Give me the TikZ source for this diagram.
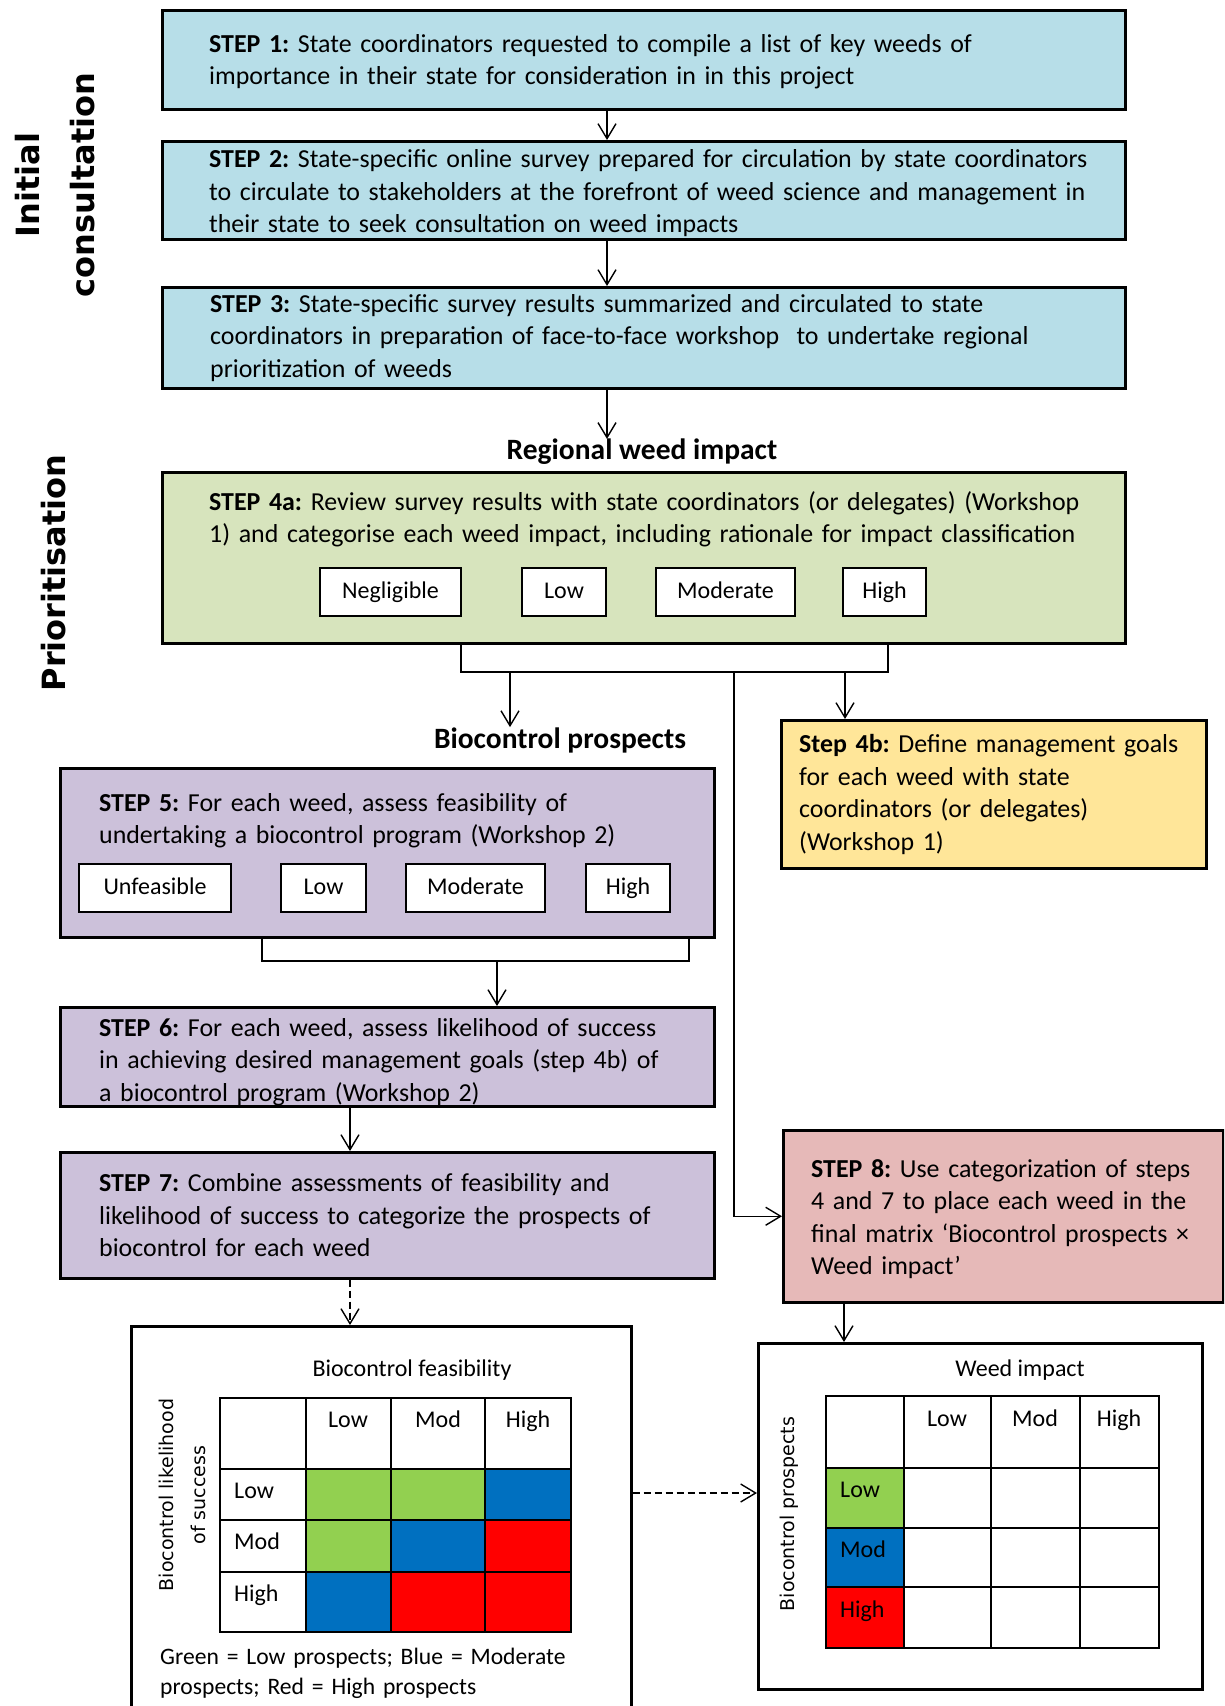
\documentclass[tikz,border=0pt]{standalone}
\usepackage{fontspec}
\setmainfont{Carlito}
\newfontfamily\verdfont{DejaVu Sans}
\usetikzlibrary{arrows.meta,positioning,calc}
\frenchspacing

\definecolor{boxblue}{HTML}{B7DEE8}
\definecolor{boxgreen}{HTML}{D7E4BD}
\definecolor{boxpurple}{HTML}{CCC1DA}
\definecolor{boxyellow}{HTML}{FFE699}
\definecolor{boxpink}{HTML}{E6B9B8}
\definecolor{cellgreen}{HTML}{92D050}
\definecolor{cellblue}{HTML}{0070C0}
\definecolor{cellred}{HTML}{FF0000}

\newcommand{\stepfont}{\fontsize{25.9}{32.5}\selectfont}
\newcommand{\catfont}{\fontsize{24}{30}\selectfont}
\newcommand{\headfont}{\fontsize{29.5}{34}\selectfont\bfseries}
\newcommand{\sidefont}{\verdfont\fontsize{32}{55}\selectfont\bfseries}
\newcommand{\rotfont}{\verdfont\fontsize{19}{32}\selectfont}

\begin{document}
\begin{tikzpicture}[
    x=1pt, y=-1pt,
    stepbox/.style={rectangle, draw, line width=2.5pt, anchor=north west, inner sep=0pt},
    steptext/.style={inner sep=0pt, align=left, font=\stepfont},
    catbox/.style={rectangle, draw, fill=white, line width=1.6pt, minimum height=48pt, inner sep=0pt,
      text height=17pt, text depth=5pt, font=\catfont},
    heading/.style={inner sep=0pt, font=\headfont},
    sidelabel/.style={rotate=90, align=center, inner sep=0pt, font=\sidefont},
    rotlabel/.style={rotate=90, align=center, inner sep=0pt, font=\rotfont},
    tablabel/.style={inner sep=0pt, text height=17pt, text depth=5pt, font=\catfont},
    frame/.style={rectangle, draw, line width=2.5pt, anchor=north west, inner sep=0pt},
    tabline/.style={line width=1.5pt, line cap=rect},
    bracket/.style={line width=2pt},
    conn/.style={line width=1.4pt, -{Straight Barb[length=15pt,width=18pt]}}
]
\path[use as bounding box] (0,0) rectangle (1224,1706);
\clip (0,0) rectangle (1224,1706);

% side labels
\node[sidelabel] (initial) at (55,185) {Initial\\consultation};
\node[sidelabel] (prior) at (54,573) {Prioritisation};

% initial consultation
\node[stepbox, fill=boxblue, minimum width=963pt, minimum height=99pt] (s1) at (161,9) {};
\node[steptext, text width=900pt, right=48pt of s1.west, yshift=-2pt] (s1text)
  {\textbf{STEP 1:} State coordinators requested to compile a list of key weeds of\\
   importance in their state for consideration in in this project};
\node[stepbox, fill=boxblue, minimum width=963pt, minimum height=98pt] (s2) at (161,140) {};
\node[steptext, text width=900pt, right=48pt of s2.west, yshift=-3pt] (s2text)
  {\textbf{STEP 2:} State-specific online survey prepared for circulation by state coordinators\\
   to circulate to stakeholders at the forefront of weed science and management in\\
   their state to seek consultation on weed impacts};
\node[stepbox, fill=boxblue, minimum width=963pt, minimum height=101pt] (s3) at (161,286) {};
\node[steptext, text width=900pt, right=49pt of s3.west] (s3text)
  {\textbf{STEP 3:} State-specific survey results summarized and circulated to state\\
   coordinators in preparation of face-to-face workshop\ \ to undertake regional\\
   prioritization of weeds};

\coordinate (c13) at (607,0);
\draw[conn] (s1.south -| c13) -- (s2.north -| c13);
\draw[conn] (s2.south -| c13) -- (s3.north -| c13);

% weed impact
\node[heading] (regional) at (642,452) {Regional weed impact};
\draw[conn] (s3.south -| c13) -- (regional.north -| c13);

\node[stepbox, fill=boxgreen, minimum width=963pt, minimum height=171pt] (s4a) at (161,471) {};
\node[steptext, anchor=base west, text width=900pt] (s4atext) at (209,510)
  {\textbf{STEP 4a:} Review survey results with state coordinators (or delegates) (Workshop\\
   1) and categorise each weed impact, including rationale for impact classification};
\node[catbox, minimum width=141pt] (negl) at (390.5,592) {Negligible};
\node[catbox, minimum width=84pt] (low4) at (564,592) {Low};
\node[catbox, minimum width=139pt] (mod4) at (725.5,592) {Moderate};
\node[catbox, minimum width=83pt] (high4) at (884.5,592) {High};

\coordinate (b4l) at (461,672);
\coordinate (b4r) at (888,672);
\draw[bracket] (b4l |- s4a.south) -- (b4l) -- (b4r) -- (b4r |- s4a.south);

\node[heading] (bioprosp) at (560,740) {Biocontrol prospects};
\node[stepbox, fill=boxyellow, minimum width=425pt, minimum height=148pt] (s4b) at (780,719) {};
\node[steptext, text width=400pt, right=19pt of s4b.west] (s4btext)
  {\textbf{Step 4b:} Define management goals\\
   for each weed with state\\
   coordinators (or delegates)\\
   (Workshop 1)};

\coordinate (t4a) at (510,672);
\coordinate (t4b) at (845,672);
\coordinate (t8) at (734,672);
\draw[conn] (t4a) -- (t4a |- bioprosp.north);
\draw[conn] (t4b) -- (t4b |- s4b.north);

% biocontrol prospects
\node[stepbox, fill=boxpurple, minimum width=654pt, minimum height=169pt] (s5) at (59,767) {};
\node[steptext, anchor=base west, text width=600pt] (s5text) at (99,811)
  {\textbf{STEP 5:} For each weed, assess feasibility of\\
   undertaking a biocontrol program (Workshop 2)};
\node[catbox, minimum width=152pt] (unf) at (155,888) {Unfeasible};
\node[catbox, minimum width=85pt] (low5) at (323.5,888) {Low};
\node[catbox, minimum width=139pt] (mod5) at (475.5,888) {Moderate};
\node[catbox, minimum width=84pt] (high5) at (628,888) {High};

\coordinate (b5l) at (262,961);
\coordinate (b5r) at (689,961);
\draw[bracket] (b5l |- s5.south) -- (b5l) -- (b5r) -- (b5r |- s5.south);

\node[stepbox, fill=boxpurple, minimum width=654pt, minimum height=99pt] (s6) at (59,1006) {};
\node[steptext, text width=600pt, right=40pt of s6.west, yshift=-5pt] (s6text)
  {\textbf{STEP 6:} For each weed, assess likelihood of success\\
   in achieving desired management goals (step 4b) of\\
   a biocontrol program (Workshop 2)};
\node[stepbox, fill=boxpurple, minimum width=654pt, minimum height=126pt] (s7) at (59,1151) {};
\node[steptext, text width=600pt, right=40pt of s7.west] (s7text)
  {\textbf{STEP 7:} Combine assessments of feasibility and\\
   likelihood of success to categorize the prospects of\\
   biocontrol for each weed};
\node[stepbox, fill=boxpink, minimum width=440pt, minimum height=172pt] (s8) at (782,1129) {};
\node[steptext, text width=410pt, right=29pt of s8.west, yshift=-3pt] (s8text)
  {\textbf{STEP 8:} Use categorization of steps\\
   4 and 7 to place each weed in the\\
   final matrix ‘Biocontrol prospects ×\\
   Weed impact’};

\coordinate (t6) at (497,961);
\coordinate (c67) at (350,0);
\draw[conn] (t6) -- (t6 |- s6.north);
\draw[conn] (s6.south -| c67) -- (s7.north -| c67);
\draw[conn] (t8) |- (s8.west);

% matrices
\node[frame, minimum width=500pt, minimum height=400pt] (fmA) at (130,1325) {};
\node[frame, minimum width=444pt, minimum height=346pt] (fmB) at (757,1342) {};

\coordinate (c8) at (844,0);
\coordinate (cm) at (0,1493);
\draw[conn, dashed, dash pattern=on 7pt off 4pt] (s7.south -| c67) -- (fmA.north -| c67);
\draw[conn] (s8.south -| c8) -- (fmB.north -| c8);
\draw[conn, dashed, dash pattern=on 7pt off 4pt] (fmA.east |- cm) -- (fmB.west |- cm);

% feasibility x likelihood table
\foreach \xa/\xb/\ya/\yb/\cc in {306/391/1469/1520/cellgreen, 391/485/1469/1520/cellgreen, 485/571/1469/1520/cellblue,
    306/391/1520/1572/cellgreen, 391/485/1520/1572/cellblue, 485/571/1520/1572/cellred,
    306/391/1572/1632/cellblue, 391/485/1572/1632/cellred, 485/571/1572/1632/cellred}
  \fill[\cc] (\xa,\ya) rectangle (\xb,\yb);
\foreach \xx in {220,306,391,485,571}
  \draw[tabline] (\xx,1398) -- (\xx,1632);
\foreach \yy in {1398,1469,1520,1572,1632}
  \draw[tabline] (220,\yy) -- (571,\yy);

\node[tablabel] (feastitle) at (412,1370) {Biocontrol feasibility};
\node[tablabel] (fcol1) at (348,1421) {Low};
\node[tablabel] (fcol2) at (438,1421) {Mod};
\node[tablabel] (fcol3) at (528,1421) {High};
\node[tablabel, anchor=west] (frow1) at (234,1492) {Low};
\node[tablabel, anchor=west] (frow2) at (234,1543) {Mod};
\node[tablabel, anchor=west] (frow3) at (234,1595) {High};
\node[rotlabel] (likely) at (182,1495) {Biocontrol likelihood\\of success};
\node[anchor=base west, align=left, inner sep=0pt, text width=460pt, font=\fontsize{23.6}{30}\selectfont] (legend) at (160,1664)
  {Green = Low prospects; Blue = Moderate\\prospects; Red = High prospects};

% prospects x impact table
\foreach \ya/\yb/\cc in {1468/1528/cellgreen, 1528/1587/cellblue, 1587/1648/cellred}
  \fill[\cc] (826,\ya) rectangle (904,\yb);
\foreach \xx in {826,904,991,1080,1159}
  \draw[tabline] (\xx,1396) -- (\xx,1648);
\foreach \yy in {1396,1468,1528,1587,1648}
  \draw[tabline] (826,\yy) -- (1159,\yy);

\node[tablabel] (imptitle) at (1020,1370) {Weed impact};
\node[tablabel] (icol1) at (947,1420) {Low};
\node[tablabel] (icol2) at (1035,1420) {Mod};
\node[tablabel] (icol3) at (1119,1420) {High};
\node[tablabel, anchor=west] (irow1) at (840,1491) {Low};
\node[tablabel, anchor=west] (irow2) at (840,1551) {Mod};
\node[tablabel, anchor=west] (irow3) at (840,1611) {High};
\node[rotlabel] (prosp) at (789,1514) {Biocontrol prospects};

\end{tikzpicture}
\end{document}
